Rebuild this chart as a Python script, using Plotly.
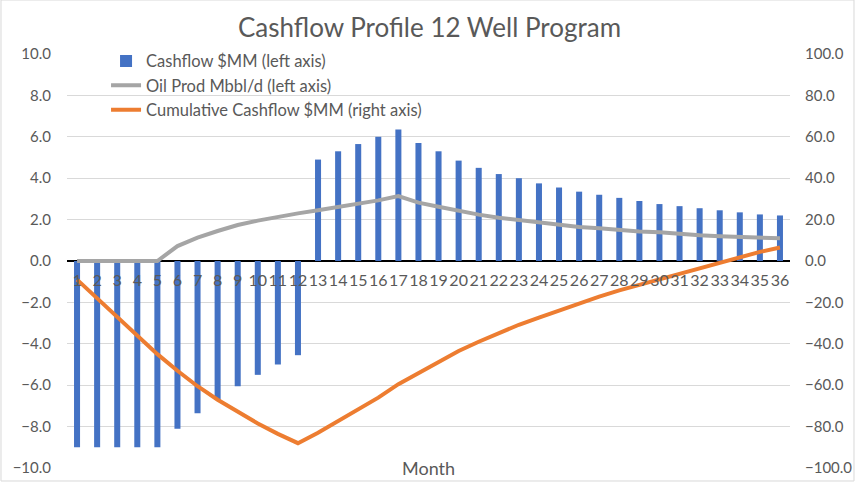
import plotly.graph_objects as go

months = [str(i) for i in range(1, 37)]

cashflow = [-9.0, -9.0, -9.0, -9.0, -9.0, -8.1, -7.35, -6.7, -6.05, -5.5, -5.0, -4.55,
            4.9, 5.3, 5.65, 6.0, 6.35, 5.7, 5.3, 4.85, 4.5, 4.2, 4.0, 3.75,
            3.55, 3.35, 3.2, 3.05, 2.9, 2.75, 2.65, 2.55, 2.45, 2.35, 2.25, 2.2]

oil_prod = [0.0, 0.0, 0.0, 0.0, 0.0, 0.72, 1.13, 1.45, 1.74, 1.95, 2.14, 2.3,
            2.45, 2.6, 2.77, 2.93, 3.14, 2.82, 2.62, 2.42, 2.24, 2.09, 1.98, 1.85,
            1.74, 1.64, 1.58, 1.5, 1.43, 1.39, 1.3, 1.24, 1.19, 1.15, 1.13, 1.1]

cumulative = [-9.0, -18.0, -27.0, -36.0, -45.0, -53.0, -60.5, -67.0, -73.0, -78.5, -83.5, -88.0,
              -83.0, -77.5, -72.0, -66.0, -59.5, -54.0, -48.5, -43.5, -39.0, -34.8, -30.8, -27.3,
              -23.8, -20.5, -17.2, -14.2, -11.5, -9.0, -6.2, -3.5, -0.8, 2.2, 4.4, 6.5]

FONT = "Lato"
GREY = "#595959"

fig = go.Figure()
fig.add_trace(go.Bar(x=months, y=cashflow, name="Cashflow $MM (left axis)",
                     marker=dict(color="#4472C4", line=dict(width=0))))
fig.add_trace(go.Scatter(x=months, y=oil_prod, name="Oil Prod Mbbl/d (left axis)",
                         mode="lines", line=dict(color="#A5A5A5", width=4)))
fig.add_trace(go.Scatter(x=months, y=cumulative, name="Cumulative Cashflow $MM (right axis)",
                         mode="lines", line=dict(color="#ED7D31", width=4), yaxis="y2"))

fig.update_layout(
    width=859, height=484,
    margin=dict(l=67, r=69, t=54, b=16, autoexpand=False),
    paper_bgcolor="white", plot_bgcolor="white",
    bargap=0.7,
    font=dict(family=FONT, color=GREY, size=15),
    title=dict(text="Cashflow Profile 12 Well Program", x=0.5, xanchor="center",
               y=0.943, yanchor="middle", font=dict(family=FONT, size=26, color=GREY)),
    xaxis=dict(type="category", anchor="free", position=0.5, showgrid=False,
               showline=False, ticks="", tickangle=0, automargin=False,
               tickfont=dict(size=16, color=GREY), ticklabelstandoff=8),
    yaxis=dict(range=[-10, 10], dtick=2, tickformat=".1f", showgrid=True, automargin=False,
               gridcolor="#D9D9D9", gridwidth=1, zeroline=True, zerolinecolor="black",
               zerolinewidth=2, tickfont=dict(size=15, color=GREY), ticklabelstandoff=15),
    yaxis2=dict(range=[-100, 100], dtick=20, tickformat=".1f", overlaying="y", side="right",
                showgrid=False, zeroline=False, automargin=False,
                tickfont=dict(size=15, color=GREY), ticklabelstandoff=14),
    legend=dict(x=0.054, y=1.025, xanchor="left", yanchor="top", bgcolor="rgba(0,0,0,0)",
                font=dict(size=16.5, color=GREY), tracegroupgap=0),
    annotations=[dict(text="Month", xref="paper", yref="paper", x=0.5, y=0.0,
                      xanchor="center", yanchor="middle", showarrow=False,
                      font=dict(size=18, color=GREY, family=FONT))],
    shapes=[dict(type="rect", xref="paper", yref="paper", x0=-0.0913, x1=1.0885,
                 y0=-0.0314, y1=1.1304, line=dict(color="#D9D9D9", width=1),
                 fillcolor="rgba(0,0,0,0)", layer="below")],
)

fig.write_html("out.html", config={"displayModeBar": False},
               post_script="document.body.style.margin='0';document.body.style.padding='0';")
